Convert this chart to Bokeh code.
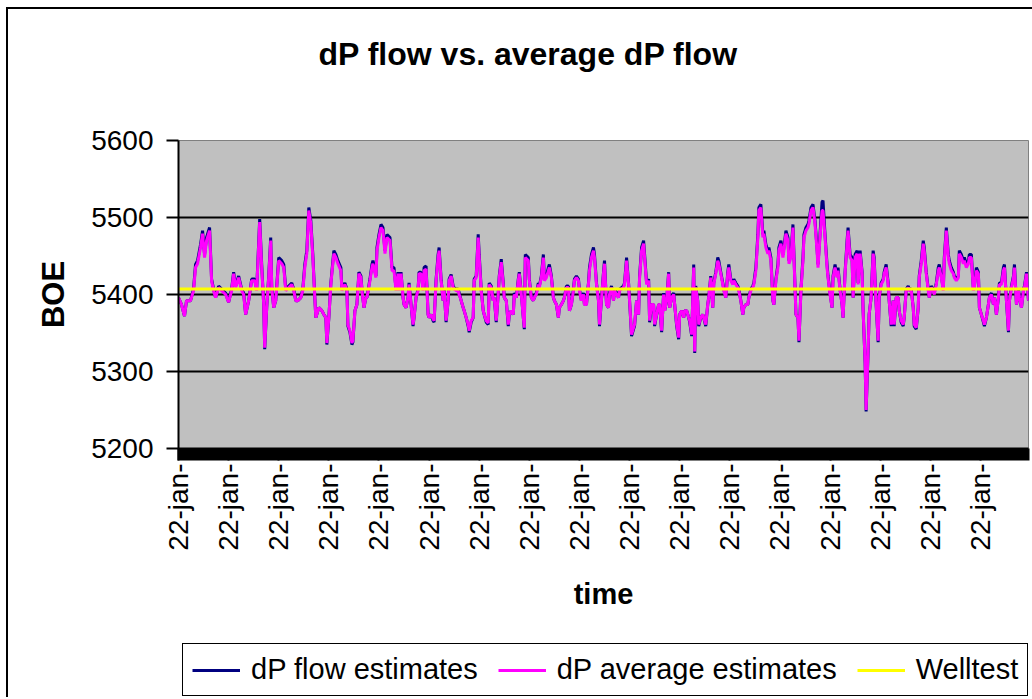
import math
from bokeh.plotting import figure
from bokeh.layouts import column
from bokeh.models import Range1d, FixedTicker, Legend, LegendItem, LinearAxis
from bokeh.embed import file_html
from bokeh.resources import INLINE

# sample index (time axis) of each reading
t = [0, 3, 6, 8, 12, 15, 17, 19, 22, 24, 26, 28, 31, 33, 35, 37, 40, 43, 47, 50,
     53, 55, 57, 60, 63, 65, 67, 70, 73, 76, 78, 81, 83, 85, 86, 88, 90, 92, 93, 95,
     97, 100, 103, 105, 107, 110, 113, 115, 117, 119, 122, 124, 126, 128, 130, 132, 134, 136, 137, 140,
     143, 145, 147, 148, 150, 152, 153, 155, 157, 159, 162, 163, 166, 168, 169, 171, 173, 174, 176, 178,
     180, 182, 183, 185, 187, 188, 191, 193, 194, 197, 198, 200, 202, 204, 206, 208, 211, 213,
     215, 217, 219, 220, 222, 224, 225, 227, 229, 230, 232, 234, 235, 237, 239, 240, 242, 244, 245, 247,
     249, 250, 252, 254, 255, 257, 259, 260, 262, 264, 265, 267, 269, 270, 272, 274, 275, 277, 279, 280,
     282, 284, 285, 287, 289, 290, 292, 294, 295, 297, 299, 300, 302, 304, 305, 307, 309, 310, 312, 314,
     315, 317, 319, 320, 322, 324, 325, 327, 329, 330, 332, 334, 335, 337, 339, 340, 342, 344, 345, 346,
     349, 350, 352, 354, 355, 357, 359, 360, 362, 364, 365, 367, 369, 370, 372, 374, 375, 377, 379, 380,
     382, 384, 385, 387, 389, 390, 392, 394, 395, 397, 399, 400, 402, 404, 405, 407, 409, 410, 412, 414,
     415, 417, 419, 420,
     424, 425, 427, 429, 430, 432, 434, 435, 437, 439, 440, 442, 444, 445, 447, 449, 450, 452, 454, 455,
     457, 459, 460, 462, 464, 465, 467, 469, 470, 472, 474, 475, 477, 479, 480, 482, 484, 485, 487, 489,
     490, 492, 494, 495, 497, 499, 500, 502, 504, 505, 507, 509, 510, 512, 514, 515, 516, 518, 519, 521,
     523, 524, 526, 528, 529, 531, 533, 534, 536, 538, 539, 541, 543, 544, 546, 548, 549, 551, 553, 554,
     556, 558, 559, 561, 563, 564, 566, 568, 569, 571, 573, 574, 576, 578, 579, 581, 583, 584, 586, 588,
     589, 591, 593, 594, 596, 598, 599, 601, 603, 604, 606, 608, 609, 611, 613, 614, 616, 618, 619, 621,
     623, 624, 626, 628, 629, 631, 633,
     635, 637, 638, 640, 642, 643, 645, 647, 648, 650, 652, 653, 655, 657, 658, 660, 662, 663, 665, 667,
     668, 670, 672, 673, 675, 677, 678, 680, 682, 683, 685, 686, 688, 689, 691, 693, 694, 696, 698, 699,
     701, 703, 704, 706, 708, 709, 711, 713, 714, 716, 718, 719, 721, 723, 724, 726, 728, 729, 731, 733,
     734, 736, 738, 739, 741, 743, 744, 746, 748, 749, 751, 753, 754, 756, 758, 759, 761, 763, 764, 766,
     768, 769, 771, 773, 774, 776, 778, 779, 781, 783, 784, 786, 788, 789, 791, 793, 794, 796, 798, 799,
     801, 803, 804, 806, 808, 809, 811, 813, 814, 816, 818, 819, 821, 823, 824, 826, 828, 829, 831, 833,
     834, 836, 838, 839, 841, 843, 844, 846, 848]

dp_average = [5396, 5387, 5372, 5392, 5392, 5405, 5435, 5440, 5461, 5479, 5448, 5470, 5483, 5418, 5405, 5396, 5409, 5405, 5400, 5390,
              5405, 5427, 5409, 5422, 5405, 5400, 5374, 5392, 5418, 5418, 5405, 5494, 5435, 5387, 5331, 5383, 5422, 5470, 5409, 5383,
              5392, 5444, 5440, 5435, 5405, 5409, 5413, 5405, 5392, 5392, 5396, 5405, 5435, 5453, 5509, 5492, 5448, 5396, 5370, 5383,
              5379, 5374, 5370, 5337, 5370, 5413, 5427, 5453, 5448, 5440, 5431, 5405, 5413, 5405, 5361, 5353, 5337, 5340, 5379, 5387,
              5427, 5422, 5405, 5383, 5396, 5396, 5418, 5435, 5440, 5422, 5457, 5474, 5487, 5483, 5453, 5474, 5470, 5431,
              5431, 5405, 5427, 5405, 5427, 5396, 5387, 5383, 5396, 5413, 5387, 5361, 5370, 5396, 5405, 5427, 5427, 5405, 5431, 5433,
              5374, 5370, 5374, 5368, 5366, 5418, 5448, 5457, 5418, 5392, 5405, 5366, 5392, 5418, 5424, 5409, 5407, 5405, 5405, 5400,
              5392, 5383, 5379, 5370, 5361, 5353, 5366, 5370, 5418, 5422, 5474, 5448, 5405, 5379, 5374, 5366, 5363, 5413, 5409, 5392,
              5396, 5366, 5400, 5422, 5442, 5413, 5396, 5392, 5361, 5374, 5379, 5374, 5400, 5396, 5418, 5427, 5400, 5370, 5357, 5448,
              5444, 5418, 5396, 5392, 5396, 5400, 5413, 5409, 5422, 5448, 5418, 5422, 5431, 5435, 5422, 5396, 5392, 5387, 5370, 5383,
              5387, 5392, 5396, 5409, 5409, 5379, 5387, 5405, 5418, 5422, 5418, 5405, 5392, 5400, 5387, 5387, 5413, 5431, 5448, 5457,
              5448, 5413, 5392, 5361,
              5427, 5440, 5387, 5383, 5400, 5409, 5392, 5405, 5400, 5396, 5405, 5407, 5409, 5413, 5444, 5413, 5392, 5348, 5357, 5361,
              5392, 5374, 5422, 5457, 5466, 5448, 5413, 5418, 5366, 5387, 5387, 5361, 5374, 5387, 5387, 5353, 5400, 5379, 5392, 5427,
              5383, 5396, 5400, 5387, 5361, 5344, 5374, 5379, 5370, 5379, 5379, 5370, 5366, 5348, 5435, 5326, 5409, 5392, 5361, 5370,
              5374, 5370, 5361, 5387, 5396, 5422, 5383, 5413, 5427, 5444, 5440, 5427, 5413, 5405, 5396, 5427, 5435, 5418, 5413, 5418,
              5413, 5409, 5405, 5392, 5374, 5383, 5387, 5387, 5396, 5405, 5409, 5413, 5431, 5474, 5509, 5513, 5474, 5479, 5461, 5453,
              5457, 5444, 5392, 5387, 5418, 5435, 5457, 5466, 5448, 5457, 5479, 5470, 5440, 5448, 5487, 5448, 5374, 5370, 5340, 5405,
              5444, 5474, 5483, 5487, 5492, 5509, 5513,
              5492, 5457, 5435, 5474, 5509, 5509, 5474, 5435, 5422, 5400, 5383, 5422, 5435, 5422, 5431, 5405, 5387, 5370, 5427, 5466,
              5483, 5448, 5444, 5396, 5448, 5453, 5413, 5453, 5427, 5379, 5313, 5250, 5328, 5374, 5396, 5453, 5444, 5387, 5340, 5396,
              5413, 5418, 5427, 5435, 5413, 5392, 5361, 5392, 5361, 5396, 5396, 5379, 5366, 5361, 5370, 5405, 5409, 5405, 5405, 5383,
              5361, 5357, 5383, 5422, 5440, 5466, 5457, 5427, 5405, 5396, 5409, 5405, 5400, 5413, 5431, 5435, 5422, 5405, 5444, 5483,
              5448, 5440, 5431, 5427, 5422, 5418, 5422, 5453, 5448, 5440, 5444, 5435, 5440, 5448, 5448, 5405, 5409, 5431, 5427, 5383,
              5374, 5366, 5361, 5370, 5387, 5396, 5400, 5387, 5396, 5374, 5396, 5413, 5413, 5431, 5435, 5392, 5353, 5392, 5409, 5422,
              5435, 5387, 5405, 5396, 5383, 5405, 5409, 5427, 5392]

dp_flow = [5396, 5387, 5372, 5392, 5392, 5407, 5439, 5444, 5465, 5483, 5452, 5474, 5487, 5420, 5407, 5396, 5411, 5407, 5402, 5390,
           5407, 5429, 5411, 5424, 5407, 5402, 5374, 5392, 5420, 5420, 5407, 5498, 5439, 5387, 5329, 5383, 5424, 5474, 5411, 5383,
           5392, 5448, 5444, 5439, 5407, 5411, 5415, 5407, 5392, 5392, 5396, 5407, 5439, 5457, 5513, 5496, 5452, 5396, 5370, 5383,
           5379, 5374, 5370, 5335, 5370, 5415, 5429, 5457, 5452, 5444, 5435, 5407, 5415, 5407, 5359, 5351, 5335, 5338, 5379, 5387,
           5429, 5424, 5407, 5383, 5396, 5396, 5420, 5439, 5444, 5424, 5461, 5478, 5491, 5487, 5457, 5478, 5474, 5435,
           5435, 5407, 5429, 5407, 5429, 5396, 5387, 5383, 5396, 5415, 5387, 5359, 5370, 5396, 5407, 5429, 5429, 5407, 5435, 5437,
           5374, 5370, 5374, 5366, 5364, 5420, 5452, 5461, 5420, 5392, 5407, 5364, 5392, 5420, 5426, 5411, 5409, 5407, 5407, 5402,
           5392, 5383, 5379, 5370, 5359, 5351, 5364, 5370, 5420, 5424, 5478, 5452, 5407, 5379, 5374, 5364, 5361, 5415, 5411, 5392,
           5396, 5364, 5402, 5424, 5446, 5415, 5396, 5392, 5359, 5374, 5379, 5374, 5402, 5396, 5420, 5429, 5402, 5370, 5355, 5452,
           5448, 5420, 5396, 5392, 5396, 5402, 5415, 5411, 5424, 5452, 5420, 5424, 5435, 5439, 5424, 5396, 5392, 5387, 5370, 5383,
           5387, 5392, 5396, 5411, 5411, 5379, 5387, 5407, 5420, 5424, 5420, 5407, 5392, 5402, 5387, 5387, 5415, 5435, 5452, 5461,
           5452, 5415, 5392, 5359,
           5429, 5444, 5387, 5383, 5402, 5411, 5392, 5407, 5402, 5396, 5407, 5409, 5411, 5415, 5448, 5415, 5392, 5346, 5355, 5359,
           5392, 5374, 5424, 5461, 5470, 5452, 5415, 5420, 5364, 5387, 5387, 5359, 5374, 5387, 5387, 5351, 5402, 5379, 5392, 5429,
           5383, 5396, 5402, 5387, 5359, 5342, 5374, 5379, 5370, 5379, 5379, 5370, 5364, 5346, 5439, 5324, 5411, 5392, 5359, 5370,
           5374, 5370, 5359, 5387, 5396, 5424, 5383, 5415, 5429, 5448, 5444, 5429, 5415, 5407, 5396, 5429, 5439, 5420, 5415, 5420,
           5415, 5411, 5407, 5392, 5374, 5383, 5387, 5387, 5396, 5407, 5411, 5415, 5435, 5478, 5513, 5517, 5478, 5483, 5465, 5457,
           5461, 5448, 5392, 5387, 5420, 5439, 5461, 5470, 5452, 5461, 5483, 5474, 5444, 5452, 5491, 5452, 5374, 5370, 5338, 5407,
           5448, 5478, 5487, 5491, 5496, 5513, 5517,
           5496, 5461, 5439, 5478, 5520, 5522, 5478, 5439, 5424, 5402, 5383, 5424, 5439, 5424, 5435, 5407, 5387, 5370, 5429, 5470,
           5487, 5452, 5448, 5396, 5452, 5457, 5415, 5457, 5429, 5379, 5311, 5248, 5326, 5374, 5396, 5457, 5448, 5387, 5338, 5396,
           5415, 5420, 5429, 5439, 5415, 5392, 5359, 5392, 5359, 5396, 5396, 5379, 5364, 5359, 5370, 5407, 5411, 5407, 5407, 5383,
           5359, 5355, 5383, 5424, 5444, 5470, 5461, 5429, 5407, 5396, 5411, 5407, 5402, 5415, 5435, 5439, 5424, 5407, 5448, 5487,
           5452, 5444, 5435, 5429, 5424, 5420, 5424, 5457, 5452, 5444, 5448, 5439, 5444, 5452, 5452, 5407, 5411, 5435, 5429, 5383,
           5374, 5364, 5359, 5370, 5387, 5396, 5402, 5387, 5396, 5374, 5396, 5415, 5415, 5435, 5439, 5392, 5351, 5392, 5411, 5424,
           5439, 5387, 5407, 5396, 5383, 5407, 5411, 5429, 5392]

welltest = 5407

series_names = ["dP flow estimates", "dP average estimates", "Welltest"]
series_colors = ["#000080", "#FF00FF", "#FFFF00"]

y_ticks = [5200, 5300, 5400, 5500, 5600]
grid_ticks = [5300, 5400, 5500]
x_label_ticks = [0, 50, 100, 150, 200, 250, 300, 350, 400, 450, 500, 550, 600, 650, 700, 750, 800]
x_tick_label = "22-jan-"
x_minor_ticks = list(range(0, 849))

FONT = "Liberation Sans"

p = figure(width=1024, height=631, output_backend="svg", toolbar_location=None,
           x_range=Range1d(0, 848), y_range=Range1d(5200, 5600),
           min_border_left=170, min_border_right=4, min_border_top=131, min_border_bottom=192,
           background_fill_color="#C0C0C0", border_fill_color="white")

p.outline_line_color = "#808080"
p.outline_line_width = 1

p.title.text = "dP flow vs. average dP flow"
p.title.text_font = FONT
p.title.text_font_size = "32px"
p.title.text_font_style = "bold"
p.title.text_color = "black"
p.title.align = "left"
p.title.offset = 140
p.title.standoff = 10

# the real axes of the chart
ya = p.left[0]
xa = p.below[0]

# blank spacer between the title and the plot area
top_gap = LinearAxis(ticker=FixedTicker(ticks=[]), axis_line_color=None,
                     major_tick_line_color=None, minor_tick_line_color=None,
                     major_tick_out=0, minor_tick_out=0, major_tick_in=0, minor_tick_in=0,
                     major_label_text_font_size="0px", major_label_standoff=0,
                     axis_label=" ", axis_label_text_font_size="24px",
                     axis_label_standoff=34)
p.add_layout(top_gap, "above")

# y axis
ya.ticker = FixedTicker(ticks=y_ticks)
ya.major_label_text_font = FONT
ya.major_label_text_font_size = "28px"
ya.major_label_text_color = "black"
ya.major_tick_out = 12
ya.major_tick_in = 0
ya.major_tick_line_width = 2
ya.minor_tick_line_color = None
ya.axis_line_width = 2
ya.major_label_standoff = 13
ya.axis_label = "BOE"
ya.axis_label_text_font = FONT
ya.axis_label_text_font_size = "31px"
ya.axis_label_text_font_style = "bold"
ya.axis_label_text_color = "black"
ya.axis_label_standoff = 17

# x axis
xa.ticker = FixedTicker(ticks=x_label_ticks, minor_ticks=x_minor_ticks)
xa.major_label_overrides = {k: x_tick_label for k in x_label_ticks}
xa.major_label_orientation = math.pi / 2
xa.major_label_text_font = FONT
xa.major_label_text_font_size = "28px"
xa.major_label_text_color = "black"
xa.major_label_standoff = 3
xa.major_tick_out = 12
xa.major_tick_in = 0
xa.major_tick_line_width = 2
xa.minor_tick_out = 12
xa.minor_tick_in = 0
xa.minor_tick_line_width = 2
xa.axis_line_width = 2
xa.axis_label = "time"
xa.axis_label_text_font = FONT
xa.axis_label_text_font_size = "29px"
xa.axis_label_text_font_style = "bold"
xa.axis_label_text_color = "black"
xa.axis_label_standoff = 24

p.xgrid.visible = False
p.ygrid.ticker = FixedTicker(ticks=grid_ticks)
p.ygrid.grid_line_color = "black"
p.ygrid.grid_line_width = 2

p.line(t, dp_flow, line_color=series_colors[0], line_width=3)
p.line(t, dp_average, line_color=series_colors[1], line_width=3)
p.line(t, [welltest] * len(t), line_color=series_colors[2], line_width=3)

# legend strip below the chart (its series lie outside its own y range)
lg = figure(width=1024, height=57, output_backend="svg", toolbar_location=None,
            x_range=Range1d(0, 848), y_range=Range1d(0, 1),
            x_axis_type=None, y_axis_type=None, min_border=0,
            min_border_left=0, min_border_right=0, min_border_top=0, min_border_bottom=0,
            background_fill_color="white", border_fill_color="white", outline_line_color=None)
lg.grid.visible = False
keys = [lg.line(t, dp_flow, line_color=series_colors[0], line_width=3),
        lg.line(t, dp_average, line_color=series_colors[1], line_width=3),
        lg.line(t, [welltest] * len(t), line_color=series_colors[2], line_width=3)]

legend = Legend(items=[LegendItem(label=n, renderers=[r]) for n, r in zip(series_names, keys)],
                orientation="horizontal", location=(4, 1),
                border_line_color="black", border_line_width=1.5, border_line_alpha=1,
                background_fill_color="white", background_fill_alpha=1,
                label_text_font=FONT, label_text_font_size="29px", label_text_color="black",
                glyph_width=48, glyph_height=20, label_standoff=11, spacing=20,
                padding=9, margin=0)
lg.add_layout(legend)

layout = column(p, lg, spacing=0)
layout.styles = {"margin-left": "6px", "margin-top": "7px",
                 "border-left": "2px solid black", "border-top": "2px solid black"}

open("out.html", "w").write(file_html(layout, INLINE))
